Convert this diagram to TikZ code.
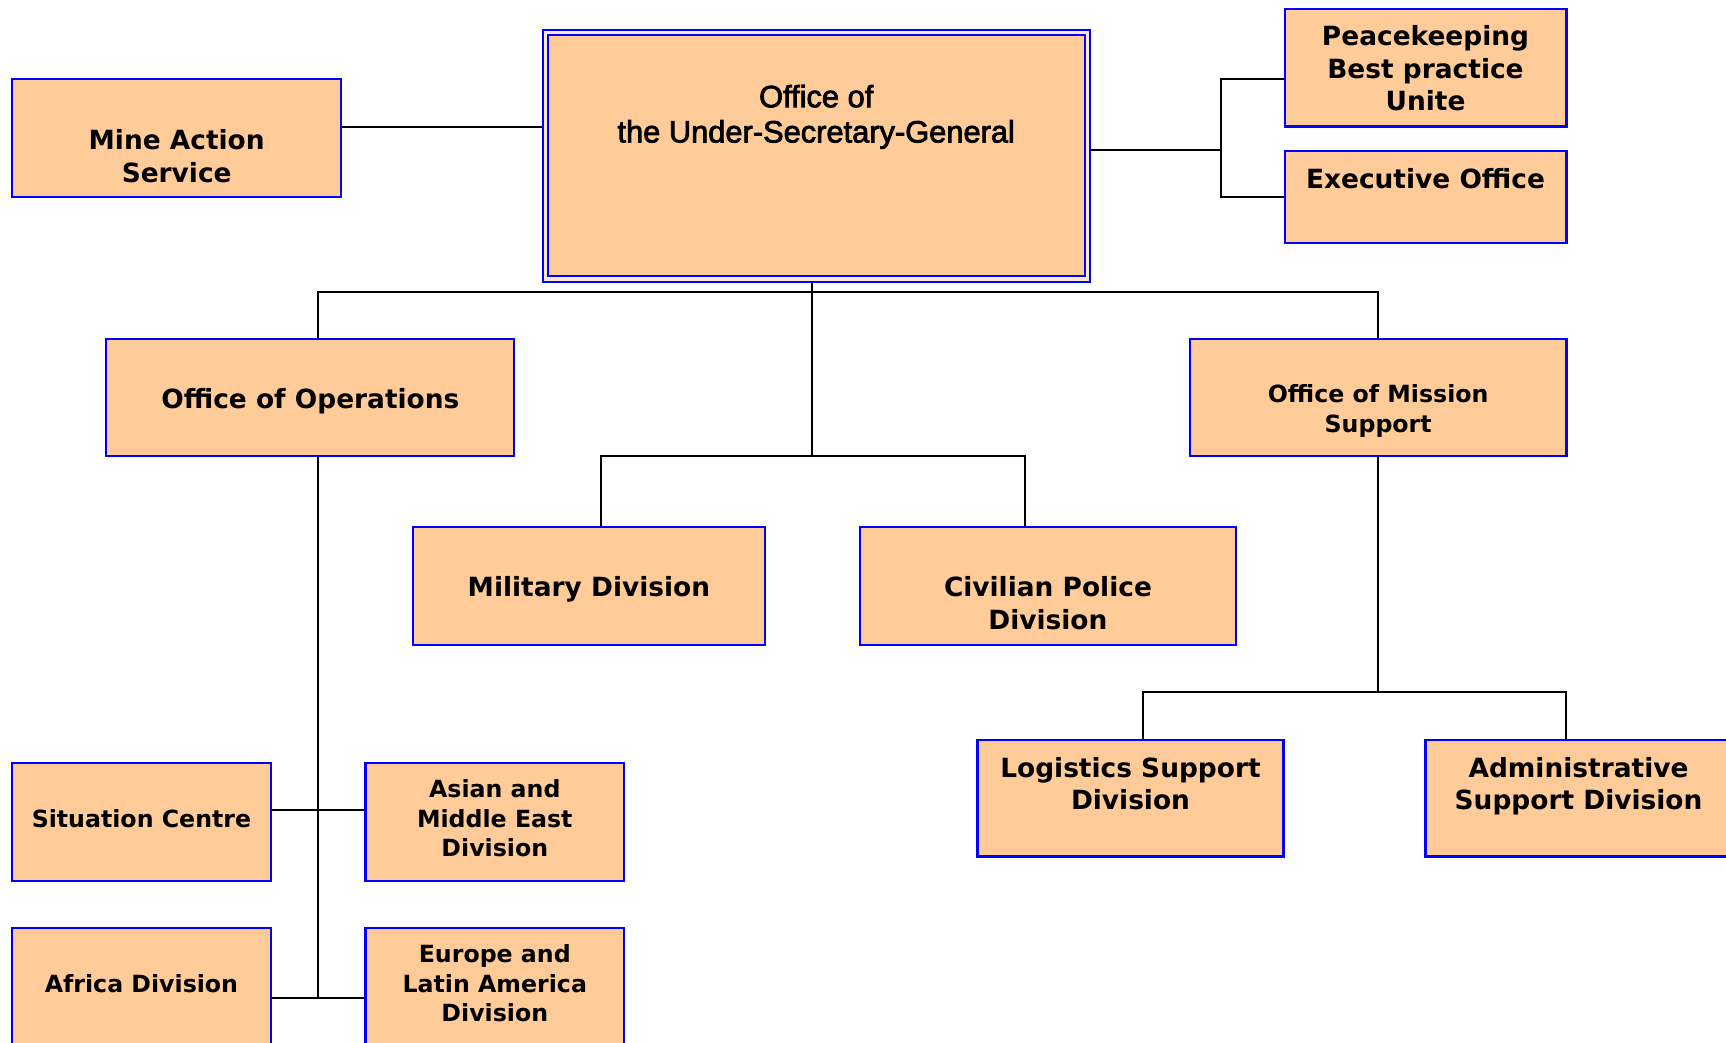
\documentclass[tikz,border=0pt]{standalone}
\usepackage{fontspec}
\setmainfont{DejaVu Sans}
\newfontfamily\usgfont[FakeBold=2.5]{Liberation Sans}
\usetikzlibrary{calc}
\definecolor{peach}{HTML}{FFCC99}
\definecolor{edgeblue}{HTML}{0000FF}
\pgfdeclarelayer{wires}
\pgfsetlayers{wires,main}
\tikzset{
  orgbox/.style={draw=edgeblue, line width=2pt, fill=peach, rectangle, inner sep=0pt, outer sep=0pt},
  bigtxt/.style={align=center, inner sep=0pt, font=\fontsize{24}{29.5}\selectfont\bfseries},
  smalltxt/.style={align=center, inner sep=0pt, font=\fontsize{21.5}{26.5}\selectfont\bfseries},
  usgtxt/.style={align=center, inner sep=0pt, font=\usgfont\fontsize{28}{32}\selectfont},
  link/.style={draw=black, line width=1.7pt},
}
% \placebox{name}{left}{top}{right}{bottom}
\newcommand\placebox[6][]{%
  \node[orgbox, #1, minimum width={(#5-#3)*1pt}, minimum height={(#6-#4)*1pt}]
    (#2) at ({(#3+#5)/2},{(#4+#6)/2}) {};}

\begin{document}
\begin{tikzpicture}[x=1pt, y=-1pt]
\useasboundingbox (0,0) rectangle (1568,947);
\clip (0,0) rectangle (1568,947);

% boxes
\placebox[fill=peach!45!white, line width=1.6pt]{usg}{493}{27}{990}{256}
\draw[edgeblue, line width=2pt, fill=peach]
  ($(usg.north west)+(5,4.5)$) rectangle ($(usg.south east)+(-4.5,-5)$);
\placebox{mine}{11}{72}{310}{179}
\placebox{pk}{1167}{8}{1423}{115}
\placebox{exec}{1167}{137}{1423}{221}
\placebox{ops}{96}{308}{467}{414}
\placebox{oms}{1081}{308}{1423}{414}
\placebox{mil}{375}{479}{695}{586}
\placebox{civ}{781}{479}{1123}{586}
\placebox{log}{888}{672}{1166}{778}
\placebox{adm}{1295}{672}{1574}{778}
\placebox{sit}{11}{693}{246}{800}
\placebox{asia}{332}{693}{567}{800}
\placebox{afr}{11}{843}{246}{951}
\placebox{eur}{332}{843}{567}{951}

% labels
\node[usgtxt] (usg-t) at (741.5,107) {\strut Office of\\\strut the Under-Secretary-General};
\node[bigtxt] (mine-t) at (160.5,145) {\strut Mine Action\\\strut Service};
\node[bigtxt] (pk-t) at (1295,65) {\strut Peacekeeping\\\strut Best practice\\\strut Unite};
\node[bigtxt] (exec-t) at (1295,165) {\strut Executive Office};
\node[bigtxt] (ops-t) at (282,365) {\strut Office of Operations};
\node[smalltxt] (oms-t) at (1252,374) {\strut Office of Mission\\\strut Support};
\node[bigtxt] (mil-t) at (535,536) {\strut Military Division};
\node[bigtxt] (civ-t) at (952,551) {\strut Civilian Police\\\strut Division};
\node[bigtxt] (log-t) at (1027,715) {\strut Logistics Support\\\strut Division};
\node[bigtxt] (adm-t) at (1434,715) {\strut Administrative\\\strut Support Division};
\node[smalltxt] (sit-t) at (128.5,746) {\strut Situation Centre};
\node[smalltxt] (asia-t) at (449.5,746) {\strut Asian and\\\strut Middle East\\\strut Division};
\node[smalltxt] (afr-t) at (128.5,896) {\strut Africa Division};
\node[smalltxt] (eur-t) at (449.5,896) {\strut Europe and\\\strut Latin America\\\strut Division};

% junction points
\coordinate (mineport) at ([yshift=10.5pt]mine.east);
\coordinate (pkport) at ([yshift=-10.5pt]pk.west);
\coordinate (rjoin) at (1109,136);
\coordinate (topbus) at (738,265);
\coordinate (opsdrop) at (289,265);
\coordinate (midbus) at (738,414);
\coordinate (milbus) at (546,414);
\coordinate (civbus) at (931,414);
\coordinate (sitjoin) at (289,736);
\coordinate (afrjoin) at (289,907);
\coordinate (omsbus) at (1252,629);
\coordinate (logbus) at (1038,629);
\coordinate (admbus) at (1423,629);

% connectors, drawn beneath the boxes
\begin{pgfonlayer}{wires}
\draw[link] (mineport) -- (mineport -| usg.west);
\draw[link] (usg.east |- rjoin) -- (rjoin);
\draw[link] (pkport) -| (rjoin) |- (exec.west);
\draw[link] (topbus |- usg.south) -- (midbus);
\draw[link] (opsdrop |- ops.north) -- (opsdrop) -- (opsdrop -| oms.north) -- (oms.north);
\draw[link] (milbus |- mil.north) -- (milbus) -- (civbus) -- (civbus |- civ.north);
\draw[link] (opsdrop |- ops.south) -- (afrjoin);
\draw[link] (sitjoin -| sit.east) -- (sitjoin -| asia.west);
\draw[link] (afrjoin -| afr.east) -- (afrjoin -| eur.west);
\draw[link] (oms.south) -- (omsbus);
\draw[link] (logbus |- log.north) -- (logbus) -- (admbus) -- (admbus |- adm.north);
\end{pgfonlayer}
\end{tikzpicture}
\end{document}
